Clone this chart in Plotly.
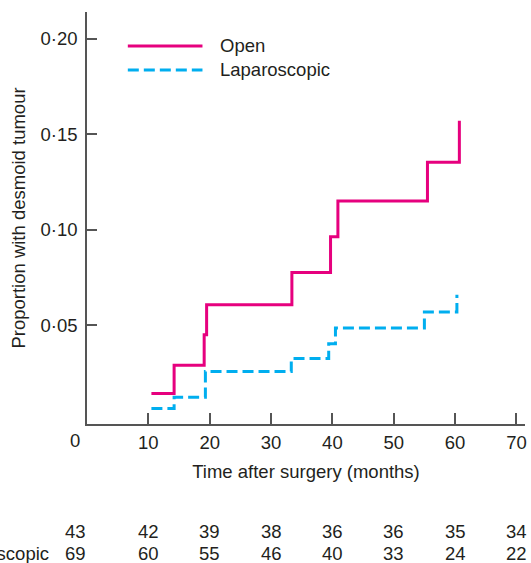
import plotly.graph_objects as go

# Data
open_time = [10.5, 14.2, 19.1, 19.5, 33.4, 39.7, 40.9, 55.5, 60.7]
open_prop = [0.0143, 0.0291, 0.0451, 0.0608, 0.0777, 0.0963, 0.1151, 0.1353, 0.1570]
lap_time = [10.5, 14.2, 19.3, 33.3, 39.4, 40.5, 55.0, 60.3]
lap_prop = [0.0065, 0.0124, 0.0258, 0.0326, 0.0404, 0.0486, 0.0570, 0.0660]

x_ticks = [10, 20, 30, 40, 50, 60, 70]
y_ticks = [0.05, 0.10, 0.15, 0.20]
y_tick_labels = ["0·05", "0·10", "0·15", "0·20"]

risk_times = [0, 10, 20, 30, 40, 50, 60, 70]
risk_open = [43, 42, 39, 38, 36, 36, 35, 34]
risk_lap = [69, 60, 55, 46, 40, 33, 24, 22]

PINK = "#E6007E"
BLUE = "#00AEEF"
TXT = "#231F20"
AX = "#555555"
FONT = "Liberation Sans, Arial, sans-serif"
FS = 18.5

fig = go.Figure()
fig.add_trace(go.Scatter(x=open_time, y=open_prop, mode="lines", line_shape="hv",
                         line=dict(color=PINK, width=3), name="Open", hoverinfo="skip"))
fig.add_trace(go.Scatter(x=lap_time, y=lap_prop, mode="lines", line_shape="hv",
                         line=dict(color=BLUE, width=3, dash="11px,5px"), name="Laparoscopic",
                         hoverinfo="skip"))

W, H = 531, 563
L, R, T, B = 87, 4, 12, 138.5
pw = W - L - R
ph = H - T - B

def px_to_paper_x(px):
    return (px - L) / pw

def px_to_paper_y(py):
    return (H - B - py) / ph

# Legend drawn manually to match the long sample lines
legend_items = [("Open", PINK, "solid", 46), ("Laparoscopic", BLUE, "11px,5px", 70)]
shapes = []
annotations = []
for label, col, dash, py in legend_items:
    yp = px_to_paper_y(py)
    shapes.append(dict(type="line", xref="paper", yref="paper",
                       x0=px_to_paper_x(128), x1=px_to_paper_x(203), y0=yp, y1=yp,
                       line=dict(color=col, width=3, dash=dash)))
    annotations.append(dict(text=label, xref="paper", yref="paper",
                            x=px_to_paper_x(219), y=yp, xanchor="left", yanchor="middle",
                            showarrow=False, font=dict(size=FS, color=TXT, family=FONT)))

# "0" origin label on x axis
annotations.append(dict(text="0", xref="x", yref="paper", x=0, y=px_to_paper_y(441.5),
                        xshift=-12, xanchor="center", yanchor="middle", showarrow=False,
                        font=dict(size=FS, color=TXT, family=FONT)))

# Numbers at risk table
rows = [("Open", risk_open, 532), ("Laparoscopic", risk_lap, 554)]
for label, vals, py in rows:
    yp = px_to_paper_y(py)
    annotations.append(dict(text=label, xref="paper", yref="paper", x=0, xshift=-150, y=yp,
                            xanchor="left", yanchor="middle", showarrow=False,
                            font=dict(size=FS, color=TXT, family=FONT)))
    for t, v in zip(risk_times, vals):
        annotations.append(dict(text=str(v), xref="x", yref="paper", x=t, y=yp,
                                xshift=-12 if t == 0 else 0,
                                xanchor="center", yanchor="middle", showarrow=False,
                                font=dict(size=FS, color=TXT, family=FONT)))

fig.update_layout(
    width=W, height=H,
    margin=dict(l=L, r=R, t=T, b=B, pad=0),
    paper_bgcolor="white", plot_bgcolor="white",
    showlegend=False,
    font=dict(family=FONT, size=FS, color=TXT),
    shapes=shapes, annotations=annotations,
    xaxis=dict(range=[0, 71.4], tickvals=x_ticks, ticks="inside", ticklen=11,
               tickwidth=1.5, tickcolor=AX, showline=True, linecolor=AX, linewidth=1.5,
               showgrid=False, zeroline=False, ticklabelstandoff=1,
               tickfont=dict(size=FS, color=TXT, family=FONT),
               title=dict(text="Time after surgery (months)", standoff=13,
                          font=dict(size=FS, color=TXT, family=FONT))),
    yaxis=dict(range=[-0.0016, 0.2139], tickvals=y_ticks, ticktext=y_tick_labels,
               ticks="inside", ticklen=10, tickwidth=1.5, tickcolor=AX,
               showline=True, linecolor=AX, linewidth=1.5, showgrid=False, zeroline=False,
               ticklabelstandoff=4,
               tickfont=dict(size=FS, color=TXT, family=FONT),
               title=dict(text="Proportion with desmoid tumour", standoff=10,
                          font=dict(size=FS, color=TXT, family=FONT))),
)

fig.write_html("out.html", config={"displayModeBar": False},
               post_script="document.body.style.margin='0';document.body.style.overflow='hidden';")
